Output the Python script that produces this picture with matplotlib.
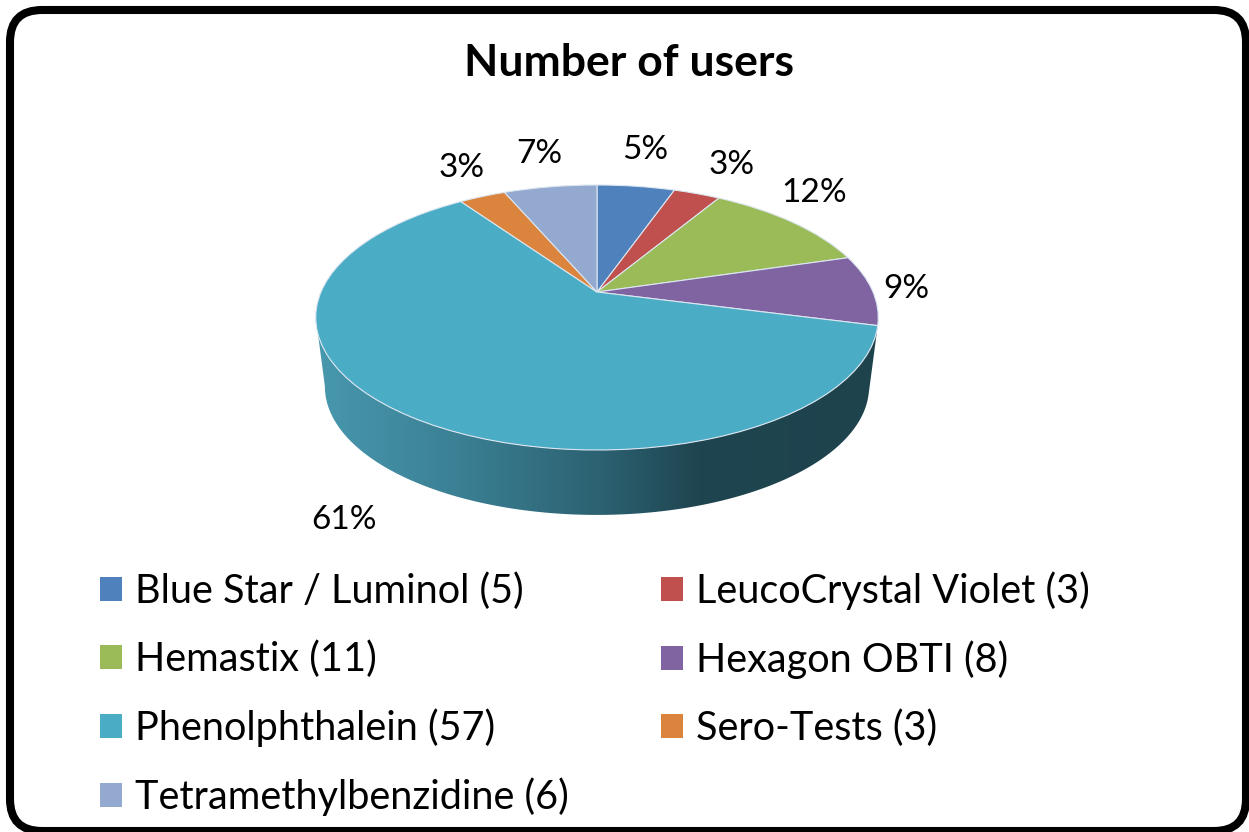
#!/usr/bin/env python3
# -*- coding: utf-8 -*-
import numpy as np
import matplotlib
matplotlib.use('Agg')
import matplotlib.pyplot as plt
from matplotlib.colors import LinearSegmentedColormap
from matplotlib.patches import FancyBboxPatch, Patch, Polygon
from matplotlib.transforms import Transform

# %% data

names = ['Blue Star / Luminol (5)', 'LeucoCrystal Violet (3)', 'Hemastix (11)', 'Hexagon OBTI (8)',
         'Phenolphthalein (57)', 'Sero-Tests (3)', 'Tetramethylbenzidine (6)']
users = [5, 3, 11, 8, 57, 3, 6]
pct_labels = ['5%', '3%', '12%', '9%', '61%', '3%', '7%']
colors = ['#4F81BD', '#C0504D', '#9BBB59', '#8064A2', '#4BACC6', '#DB843D', '#93A9CF']
title = 'Number of users'

# label centres in picture pixels
label_pos = [(645, 150), (732, 165), (814, 193), (906, 289), (344, 520), (462, 168), (539, 154)]

# %% universal parameters

W, H = 1249, 832
font = 'Lato'
fs = 28.5
plt.rcParams['font.family'] = [font, 'DejaVu Sans']


class PieProjection(Transform):
    # perspective view of the flat unit pie, output in picture pixels
    input_dims = output_dims = 2
    is_separable = False
    has_inverse = False

    def __init__(self, cx, cy, a, b, k):
        super().__init__()
        self.cx, self.cy, self.a, self.b, self.k = cx, cy, a, b, k

    def transform_non_affine(self, xy):
        xy = np.asarray(xy, dtype=float)
        w = 1 + self.k * xy[:, 1]
        return np.column_stack((self.cx + self.a * xy[:, 0] / w, self.cy - self.b * xy[:, 1] / w))


# %% figure

fig = plt.figure(figsize=(W / 100, H / 100), dpi=100)
ax = fig.add_axes([0, 0, 1, 1])

top_rim = PieProjection(597, 292, 276, 127.6, 0.1924)
low_rim = PieProjection(597, 362, 267, 123.5, 0.1924)

# side wall of the pie with its shading
theta_right = 2 * np.pi * sum(users[:4]) / sum(users)
th = np.linspace(theta_right, np.radians(259), 200)
circle = np.column_stack((np.sin(th), np.cos(th)))
wall_xy = np.vstack((top_rim.transform(circle), low_rim.transform(circle)[::-1]))

shade = LinearSegmentedColormap.from_list('wall', [(0, '#4898AE'), (0.25, '#3B8094'), (0.5, '#2C6272'),
                                                   (0.68, '#1F4550'), (1, '#1E434D')])
wall_img = ax.imshow(np.linspace(0, 1, 256)[None, :], cmap=shade, aspect='auto', extent=[317, 879, 520, 200], zorder=1)
wall_img.set_clip_path(Polygon(wall_xy, closed=True, transform=ax.transData))

# top of the pie
wedges, _ = ax.pie(users, colors=colors, startangle=90, counterclock=False, radius=1, center=(0, 0),
                   wedgeprops={'transform': top_rim + ax.transData, 'edgecolor': '#DCE6F0', 'linewidth': 0.8,
                               'zorder': 2})

ax.set_aspect('auto')
ax.set_xlim(0, W)
ax.set_ylim(H, 0)
ax.set_axis_off()

# rounded frame, its bottom and right sides run to the picture edge
ax.add_patch(FancyBboxPatch((10, 10), W - 13, H - 11, boxstyle='round,pad=0,rounding_size=32',
                            facecolor='none', edgecolor='black', linewidth=5.8, zorder=5, clip_on=False))

ax.text(629, 63, title, ha='center', va='center', fontsize=32, fontweight='bold')

for (x, y), lab in zip(label_pos, pct_labels):
    ax.text(x, y, lab, ha='center', va='center', fontsize=24)

# legend filled column by column, so reorder to get the rows of the reference
order = [0, 2, 4, 6, 1, 3, 5]
handles = [Patch(facecolor=colors[i], edgecolor='none', label=names[i]) for i in order]
ax.legend(handles=handles, ncol=2, frameon=False, fontsize=fs, loc='upper left',
          bbox_to_anchor=(100 / W, 1 - 571 / H), bbox_transform=ax.transAxes, borderpad=0, borderaxespad=0,
          handlelength=0.56, handleheight=0.56, handletextpad=0.33, labelspacing=0.77, columnspacing=2.32)

plt.savefig('out.png', dpi=100)
